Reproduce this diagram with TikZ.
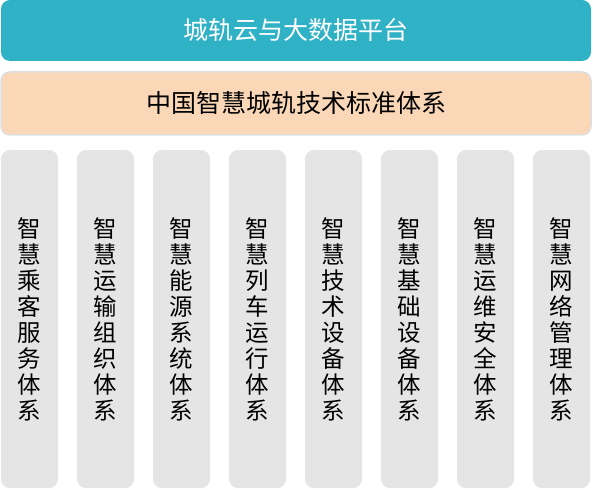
\documentclass[tikz,border=0pt]{standalone}
\usepackage{fontspec}
\setmainfont{Noto Sans CJK SC}
\usetikzlibrary{positioning}
\definecolor{cloudteal}{HTML}{30B2C6}
\definecolor{stdpeach}{HTML}{FAD7B6}
\definecolor{stdborder}{HTML}{DEDEDE}
\definecolor{sysgray}{HTML}{E5E5E5}

\begin{document}
\begin{tikzpicture}[x=1pt, y=-1pt,
  bar/.style={rounded corners=9pt, minimum width=590pt, minimum height=61pt, inner sep=0pt, font=\fontsize{25}{30}\selectfont},
  cloud/.style={bar, fill=cloudteal, text=white},
  stdbar/.style={bar, fill=stdpeach, draw=stdborder, line width=1.5pt, minimum height=63pt},
  sys/.style={rounded corners=9pt, fill=sysgray, minimum width=57pt, minimum height=338pt, inner sep=0pt, align=center, font=\fontsize{23.5}{26}\selectfont}
]
  \useasboundingbox (0,0) rectangle (593,489);

  \node[cloud]  (cloud) at (296,30.5)  {城轨云与大数据平台};
  \node[stdbar] (std)   at (296,103.5) {中国智慧城轨技术标准体系};

  % eight subsystem columns
  \foreach \txt [count=\i] in {
    {智\\慧\\乘\\客\\服\\务\\体\\系},
    {智\\慧\\运\\输\\组\\织\\体\\系},
    {智\\慧\\能\\源\\系\\统\\体\\系},
    {智\\慧\\列\\车\\运\\行\\体\\系},
    {智\\慧\\技\\术\\设\\备\\体\\系},
    {智\\慧\\基\\础\\设\\备\\体\\系},
    {智\\慧\\运\\维\\安\\全\\体\\系},
    {智\\慧\\网\\络\\管\\理\\体\\系}}
    \node[sys] (sys\i) at ({29.5+76*(\i-1)},319) {\txt};
\end{tikzpicture}
\end{document}
